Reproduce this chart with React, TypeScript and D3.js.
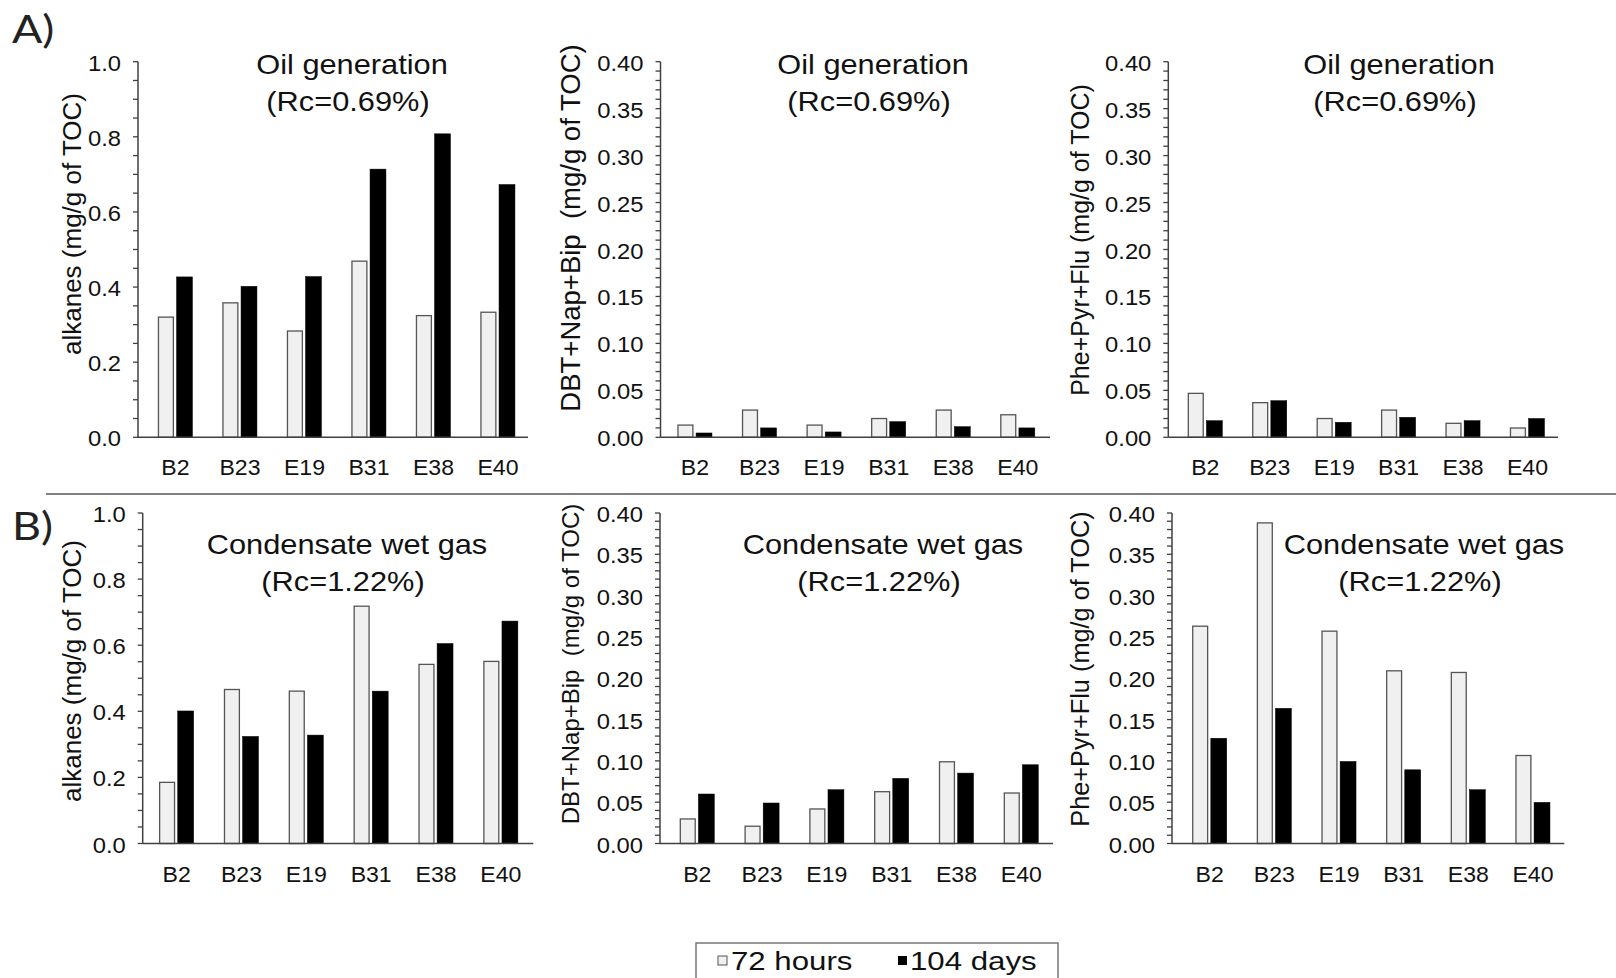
import React from 'react';
import * as d3 from 'd3';

const categories = ['B2', 'B23', 'E19', 'B31', 'E38', 'E40'];
const seriesNames = ['72 hours', '104 days'];

const oilAlkanes72 = [0.32, 0.358, 0.283, 0.469, 0.324, 0.333];
const oilAlkanes104 = [0.427, 0.402, 0.428, 0.714, 0.808, 0.673];
const oilDbt72 = [0.013, 0.029, 0.013, 0.02, 0.029, 0.024];
const oilDbt104 = [0.0046, 0.01, 0.0057, 0.0167, 0.0113, 0.01];
const oilPhe72 = [0.0468, 0.0369, 0.02, 0.029, 0.0149, 0.0099];
const oilPhe104 = [0.0177, 0.039, 0.016, 0.0213, 0.0177, 0.02];
const gasAlkanes72 = [0.185, 0.466, 0.461, 0.718, 0.542, 0.551];
const gasAlkanes104 = [0.401, 0.324, 0.328, 0.461, 0.605, 0.673];
const gasDbt72 = [0.0297, 0.0209, 0.0418, 0.0627, 0.0989, 0.0611];
const gasDbt104 = [0.0599, 0.049, 0.0651, 0.0788, 0.0852, 0.0953];
const gasPhe72 = [0.263, 0.388, 0.257, 0.209, 0.207, 0.1065];
const gasPhe104 = [0.1274, 0.1636, 0.0993, 0.0892, 0.0651, 0.0498];

const alkanesTicks = [0, 0.2, 0.4, 0.6, 0.8, 1.0];
const aromaticTicks = [0, 0.05, 0.1, 0.15, 0.2, 0.25, 0.3, 0.35, 0.4];

const oilTitle = ['Oil generation', '(Rc=0.69%)'];
const gasTitle = ['Condensate wet gas', '(Rc=1.22%)'];
const yLabels = ['alkanes (mg/g of TOC)', 'DBT+Nap+Bip  (mg/g of TOC)', 'Phe+Pyr+Flu (mg/g of TOC)'];

const FONT = "'Liberation Sans', Arial, sans-serif";
const AXIS = '#404040';

type Panel = {
  v72: number[]; v104: number[]; max: number; minor: number; ticks: number[]; fmt: (n: number) => string;
  ylabel: string; ylabelSize: number; title: string[];
  axisX: number; range: [number, number]; axisEnd: number; top: number; bottom: number;
  ylabelX: number; ylabelY: number; titleX: number; titleY: number;
};

const f1 = d3.format('.1f');
const f2 = d3.format('.2f');

const panels: Panel[] = [
  { v72: oilAlkanes72, v104: oilAlkanes104, max: 1, minor: 0.05, ticks: alkanesTicks, fmt: f1, ylabel: yLabels[0], ylabelSize: 26, title: oilTitle,
    axisX: 138, range: [143.2, 530.2], axisEnd: 528, top: 61.7, bottom: 437.3, ylabelX: 81, ylabelY: 224, titleX: 352, titleY: 74 },
  { v72: oilDbt72, v104: oilDbt104, max: 0.4, minor: 0.01, ticks: aromaticTicks, fmt: f2, ylabel: yLabels[1], ylabelSize: 27.5, title: oilTitle,
    axisX: 660.5, range: [662.7, 1050.1], axisEnd: 1050, top: 61.7, bottom: 437.3, ylabelX: 580, ylabelY: 228, titleX: 873, titleY: 74 },
  { v72: oilPhe72, v104: oilPhe104, max: 0.4, minor: 0.01, ticks: aromaticTicks, fmt: f2, ylabel: yLabels[2], ylabelSize: 25, title: oilTitle,
    axisX: 1168.3, range: [1173.1, 1559.7], axisEnd: 1558, top: 61.7, bottom: 437.3, ylabelX: 1089, ylabelY: 240, titleX: 1399, titleY: 74 },
  { v72: gasAlkanes72, v104: gasAlkanes104, max: 1, minor: 0.05, ticks: alkanesTicks, fmt: f1, ylabel: yLabels[0], ylabelSize: 26, title: gasTitle,
    axisX: 142.7, range: [144.2, 533.3], axisEnd: 533.3, top: 513, bottom: 843.5, ylabelX: 81, ylabelY: 671, titleX: 347, titleY: 554 },
  { v72: gasDbt72, v104: gasDbt104, max: 0.4, minor: 0.01, ticks: aromaticTicks, fmt: f2, ylabel: yLabels[1], ylabelSize: 24, title: gasTitle,
    axisX: 660, range: [664.9, 1053.7], axisEnd: 1053, top: 513, bottom: 843.5, ylabelX: 579, ylabelY: 664, titleX: 883, titleY: 554 },
  { v72: gasPhe72, v104: gasPhe104, max: 0.4, minor: 0.01, ticks: aromaticTicks, fmt: f2, ylabel: yLabels[2], ylabelSize: 25.3, title: gasTitle,
    axisX: 1172, range: [1177.4, 1565.3], axisEnd: 1564.3, top: 513, bottom: 843.5, ylabelX: 1089, ylabelY: 669, titleX: 1424, titleY: 554 },
];

function PanelView({ p }: { p: Panel }) {
  const x = d3.scaleBand<string>().domain(categories).range(p.range);
  const xs = d3.scaleBand<string>().domain(seriesNames).range([-17, 17]).paddingInner(0.12);
  const y = d3.scaleLinear().domain([0, p.max]).range([p.bottom, p.top]);
  const minorTicks = d3.range(0, Math.round(p.max / p.minor) + 1).map((i) => i * p.minor);
  const cx = (c: string) => (x(c) as number) + x.bandwidth() / 2;
  return (
    <g>
      {p.title.map((t, i) => (
        <text key={t} transform={`translate(${p.titleX - i * 4},${p.titleY + i * 37}) scale(1.14,1)`} textAnchor="middle"
          fontSize={27} fontFamily={FONT} fill="#111">{t}</text>
      ))}
      <text transform={`translate(${p.ylabelX},${p.ylabelY}) rotate(-90)`} textAnchor="middle" fontSize={p.ylabelSize}
        fontFamily={FONT} fill="#111" style={{ whiteSpace: 'pre' }}>{p.ylabel}</text>
      {categories.map((c, i) => (
        <g key={c}>
          <rect x={cx(c) + (xs(seriesNames[0]) as number)} width={xs.bandwidth() - 1} y={y(p.v72[i])} height={y(0) - y(p.v72[i])}
            fill="#f0f0f0" stroke="#555" strokeWidth={1.3} />
          <rect x={cx(c) + (xs(seriesNames[1]) as number)} width={xs.bandwidth()} y={y(p.v104[i])} height={y(0) - y(p.v104[i])}
            fill="#000" stroke="#000" strokeWidth={0.5} />
          <text transform={`translate(${cx(c)},${p.bottom + 38}) scale(1.05,1)`} textAnchor="middle" fontSize={22}
            fontFamily={FONT} fill="#111">{c}</text>
        </g>
      ))}
      {minorTicks.map((t, i) => (
        <line key={i} x1={p.axisX - 5} x2={p.axisX} y1={y(t)} y2={y(t)} stroke={AXIS} strokeWidth={1.3} />
      ))}
      {p.ticks.map((t) => (
        <text key={t} transform={`translate(${p.axisX - 17},${y(t) + 9}) scale(1.08,1)`} textAnchor="end" fontSize={22}
          fontFamily={FONT} fill="#111">{p.fmt(t)}</text>
      ))}
      <line x1={p.axisX} x2={p.axisX} y1={p.top} y2={p.bottom} stroke={AXIS} strokeWidth={1.5} />
      <line x1={p.axisX} x2={p.axisEnd} y1={p.bottom} y2={p.bottom} stroke={AXIS} strokeWidth={1.5} />
    </g>
  );
}

export default function App() {
  return (
    <svg width={1616} height={978} style={{ position: 'absolute', left: 0, top: 0, background: '#fff' }}>
      <rect x={0} y={0} width={1616} height={978} fill="#fff" />
      <text transform="translate(12,43) scale(1.15,1)" fontSize={39} fontFamily="Lato, 'Open Sans', sans-serif" fill="#222">A)</text>
      <text transform="translate(12,540) scale(1.15,1)" fontSize={39} fontFamily="Lato, 'Open Sans', sans-serif" fill="#222">B)</text>
      <line x1={46} x2={1616} y1={494} y2={494} stroke="#808080" strokeWidth={2} />
      {panels.map((p, i) => <PanelView key={i} p={p} />)}
      <g>
        <rect x={696} y={943} width={362} height={60} fill="#fff" stroke="#777" strokeWidth={1.5} />
        <rect x={718} y={956} width={9} height={9} fill="#f0f0f0" stroke="#555" strokeWidth={1} />
        <text transform="translate(731,970) scale(1.2,1)" fontSize={26} fontFamily={FONT} fill="#111">{seriesNames[0]}</text>
        <rect x={898} y={956} width={9} height={9} fill="#000" />
        <text transform="translate(910,970) scale(1.2,1)" fontSize={26} fontFamily={FONT} fill="#111">{seriesNames[1]}</text>
      </g>
    </svg>
  );
}
